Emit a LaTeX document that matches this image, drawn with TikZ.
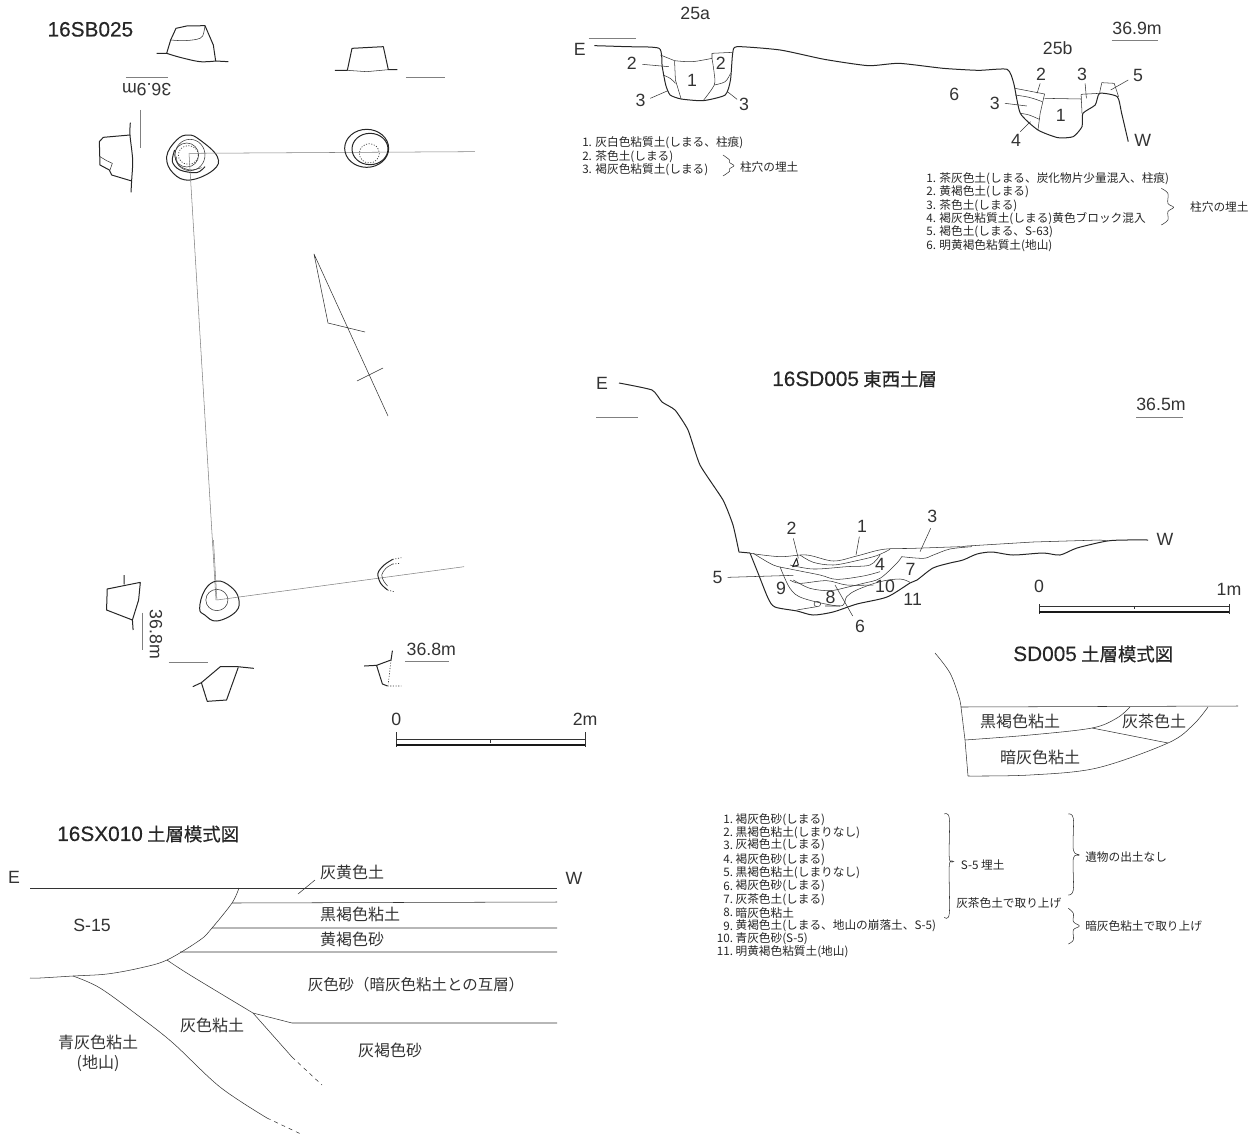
\documentclass[tikz,border=0pt]{standalone}
\usepackage{fontspec}
\setmainfont{Noto Sans CJK JP}
\newfontfamily\latf{Liberation Sans}
\newfontfamily\tlat[FakeBold=0.35]{Liberation Sans}
\newfontfamily\tcjk[FakeBold=0.35]{Noto Sans CJK JP}
\newcommand\ttltext[2]{{\fontsize{15.6}{16}\selectfont\tlat #1}\hspace{3.2pt}{\fontsize{13.8}{16}\selectfont\tcjk #2}}
\tikzset{
 ink/.style={line width=.75pt,black!85,line join=round},
 fine/.style={line width=.4pt,black!80,line join=round},
 ref/.style={line width=.4pt,black!50},
 dots/.style={line width=.5pt,black!80,dash pattern=on .8pt off 1.2pt},
 curve/.style={smooth,tension=.55},
 lab/.style={inner sep=0pt,font=\fontsize{13.3}{14}\selectfont\latf,text=black!80},
 big/.style={inner sep=0pt,font=\fontsize{12}{12}\selectfont,text=black!80},
 ttl/.style={inner sep=0pt,anchor=west,text=black!85},
 leg/.style={inner sep=0pt,anchor=west,font=\fontsize{8.75}{9}\selectfont,text=black!85},
 num/.style={inner sep=0pt,anchor=east,font=\fontsize{8.75}{9}\selectfont,text=black!85},
}
\begin{document}
\begin{tikzpicture}[x=.75pt,y=-.75pt]
\useasboundingbox (0,0) rectangle (1256,1135);
% ---------- 16SB025 upper part (zoom 3x)
\begin{scope}[xscale=1/3,yscale=1/3]
\node[ttl] (sbt) at (142,88) {\ttltext{16SB025}{}};
\draw[ink] (470,160)--(500,160)--(512,120)--(528,85)--(560,78)--(615,77)--(640,135)--(647,183)--(685,185);
\draw[ink] (500,160) plot[curve] coordinates {(500,160)(540,172)(600,185)(647,183)};
\draw[fine] (512,120) plot[curve] coordinates {(512,120)(550,122)(590,118)(608,108)(615,77)};
\draw[ink] (1005,211)--(1042,211)--(1056,145)--(1150,140)--(1165,209)--(1192,209);
\draw[fine] (1042,211)--(1100,215)--(1165,209);
\draw[ref] (1218,231)--(1335,231) (378,233)--(505,233) (421,330)--(421,445);
\node[lab,rotate=180] (sbe) at (440,270) {36.9m};
\draw[ink] plot[curve] coordinates {(391,368)(390,405)(398,480)(395,540)(393,577)};
\draw[ink] (390,405)--(310,412)--(298,425)--(300,495)--(328,510)--(335,525)--(395,543);
\draw[fine] (300,470)--(320,482)--(337,490)--(330,510);
\draw[ink] plot[smooth cycle,tension=.7] coordinates {(500,470)(530,420)(565,405)(600,420)(652,470)(640,510)(570,540)(520,520)};
\draw[fine] (570,465) circle [x radius=45,y radius=47];
\draw[fine] (560,465) circle [x radius=36,y radius=36];
\draw[dots] (565,465) circle [x radius=30,y radius=28];
\draw[ink] plot[curve] coordinates {(524,450)(517,485)(540,510)(590,518)(615,500)};
\draw[fine] plot[curve] coordinates {(530,470)(535,495)(570,510)(605,503)};
\draw[ref] (568,460)--(1425,455);
\draw[ink] (1100,445) circle [x radius=66,y radius=57];
\draw[ink] (1110,447) circle [x radius=54,y radius=47];
\draw[dots] (1108,460) circle [x radius=30,y radius=29];
\end{scope}
\draw[ref] (189,153)--(216,600);
% ---------- arrow
\draw[fine] (365,332)--(328,323)--(314,254)--(388,416) (357,381)--(383,368);
% ---------- 16SB025 lower part
\begin{scope}[shift={(60,540)},xscale=1/2.9,yscale=1/3]
\draw[ink] (186,105)--(186,133) (233,127)--(137,147)--(135,210)--(210,240)--(212,270) (233,127)--(228,180)--(210,240);
\draw[ref] (240,218)--(240,330) (315,367)--(428,367) (1000,363)--(1127,363);
\node[lab,rotate=-90] (sbf) at (278,283) {36.8m};
\draw[ink] (385,440)--(410,428)--(465,380)--(515,380)--(562,385);
\draw[ink] (410,428)--(427,484)--(483,480)--(517,382);
\draw[ink] plot[smooth cycle,tension=.7] coordinates {(405,205)(420,150)(455,123)(495,140)(518,175)(510,215)(455,243)(420,225)};
\draw[fine] (455,180) circle [x radius=32,y radius=32];
\draw[ref] (445,0)--(455,180)--(1172,80);
\draw[ink] plot[curve] coordinates {(965,58)(940,75)(922,100)(930,130)(950,150)};
\draw[fine] plot[curve] coordinates {(965,72)(945,85)(933,105)(940,125)(950,138)};
\draw[dots] (965,58)--(990,53) (965,72)--(985,70) (950,150)--(968,155);
\draw[ink] (882,378)--(918,376)--(960,360)--(964,332) (918,376)--(935,432)--(950,438);
\draw[dots] (950,438)--(990,438) (960,360)--(952,432);
\node[lab] (sbg) at (1077,328) {36.8m};
\node[lab] (sbh) at (975,537) {0};
\node[lab] (sbi) at (1523,537) {2m};
\draw[fine] (975,577)--(975,620) (1523,577)--(1523,620) (975,598)--(1523,598) (1248,598)--(1248,608);
\draw[line width=1.6pt,black!90] (975,615)--(1523,615);
\end{scope}
% ---------- 25a/25b section
\begin{scope}[shift={(560,0)},xscale=1/2.27,yscale=1/3]
\node[lab] (sa) at (307,40) {25a};
\node[lab] (sb) at (45,148) {E};
\draw[ref] (65,115)--(172,115) (1252,120)--(1357,120);
\node[lab] (sc) at (1310,85) {36.9m};
\node[lab] (sd) at (1130,143) {25b};
\draw[ink] plot[smooth,tension=.35] coordinates {(78,137)(150,140)(225,145)(232,200)(240,255)(250,285)(275,297)(325,302)(375,285)(387,240)(392,160)(402,140)(500,150)(600,178)(700,197)(770,190)(870,205)(950,211)(1015,208)(1030,250)(1045,340)(1085,390)(1130,413)(1165,410)(1185,380)(1187,340)(1215,315)(1225,280)(1265,290)(1275,340)(1290,425)};
\draw[fine] (228,165)--(260,182);
\draw[fine] plot[curve] coordinates {(260,182)(300,185)(345,175)};
\draw[fine] (345,175)--(345,160)--(392,157);
\draw[fine] (260,182)--(262,240)--(275,297);
\draw[fine] plot[curve] coordinates {(345,175)(350,220)(350,255)(325,302)};
\draw[fine] plot[curve] coordinates {(234,225)(250,235)(262,250)};
\draw[fine] plot[curve] coordinates {(350,255)(375,245)(387,220)};
\draw[fine] (187,193)--(247,200) (205,295)--(245,272) (380,275)--(402,298);
\node[lab] (se) at (163,190) {2};
\node[lab] (sf) at (300,240) {1};
\node[lab] (sg) at (365,190) {2};
\node[lab] (sh) at (183,300) {3};
\node[lab] (si) at (418,313) {3};
\draw[fine] (1033,265)--(1100,282)--(1090,340)--(1085,390);
\draw[fine] plot[curve] coordinates {(1033,285)(1065,292)(1095,305)};
\draw[fine] plot[curve] coordinates {(1045,340)(1065,345)(1088,358)};
\draw[fine] (1100,295)--(1183,297) (1183,283)--(1225,280) (1183,283)--(1185,340);
\draw[fine] (1225,278)--(1230,248)--(1258,250)--(1268,290);
\draw[fine] (1010,310)--(1060,318) (1083,280)--(1090,250) (1192,250)--(1195,295) (1290,240)--(1250,270) (1045,395)--(1068,365);
\node[lab] (sj) at (1092,222) {2};
\node[lab] (sk) at (1185,222) {3};
\node[lab] (sl) at (1312,225) {5};
\node[lab] (sm) at (987,310) {3};
\node[lab] (sn) at (1035,420) {4};
\node[lab] (so) at (1137,345) {1};
\node[lab] (sp) at (895,283) {6};
\node[lab] (sq) at (1323,420) {W};
\draw[fine] plot[curve] coordinates {(370,465)(385,480)(385,488)(395,497)(385,506)(385,514)(370,528)};
\node[leg] (sr) at (408,500) {柱穴の埋土};
\draw[fine] plot[curve] coordinates {(1365,565)(1380,580)(1380,610)(1393,622)(1380,635)(1380,660)(1365,675)};
\node[leg] (ss) at (1430,620) {柱穴の埋土};
\end{scope}
\node[leg] (la) at (582,143) {1. 灰白色粘質土(しまる、柱痕)};
\node[leg] (lb) at (582,157) {2. 茶色土(しまる)};
\node[leg] (lc) at (582,170) {3. 褐灰色粘質土(しまる)};
\node[leg] (ld) at (926,179) {1. 茶灰色土(しまる、炭化物片少量混入、柱痕)};
\node[leg] (le) at (926,192) {2. 黄褐色土(しまる)};
\node[leg] (lf) at (926,206) {3. 茶色土(しまる)};
\node[leg] (lg) at (926,219) {4. 褐灰色粘質土(しまる)黄色ブロック混入};
\node[leg] (lh) at (926,232) {5. 褐色土(しまる、S-63)};
\node[leg] (li) at (926,246) {6. 明黄褐色粘質土(地山)};
% ---------- 16SD005 section
\node[ttl] (da) at (772,379) {\ttltext{16SD005}{東西土層}};
\node[lab] (db) at (602,383) {E};
\draw[ref] (596,417)--(638,417) (1136,417)--(1183,417);
\node[lab] (dc) at (1161,404) {36.5m};
\node[lab] (dd) at (1165,539) {W};
\draw[ink] plot[smooth,tension=.3] coordinates {(619,383)(652,390)(662,402)(675,410)(688,430)(700,465)(723,500)(733,525)(739,552)};
\draw[ink] (739,552)--(750,553);
\draw[ink] plot[smooth,tension=.45] coordinates {(750,553)(758,573)(768,598)(775,607)(797,611)(813,615)(833,612)(857,604)(887,597)(910,583)(917,580)(933,568)(950,563)(963,560)(977,554)(992,552)(1013,555)(1043,553)(1060,555)(1077,548)(1107,541)(1127,540)(1148,540)};
\draw[fine] (960,547)--(967,546)--(1033,542)--(1100,540)--(1108,541);
\begin{scope}[shift={(700,500)},scale=1/3]
\draw[fine] plot[curve] coordinates {(150,160)(240,170)(320,165)(400,183)(470,168)(550,148)(640,145)(780,140)};
\draw[fine] plot[curve] coordinates {(160,160)(220,195)(270,207)(360,225)(410,238)(490,228)(540,215)};
\draw[fine] plot[curve] coordinates {(300,165)(340,187)(400,195)(470,182)(530,167)(570,148)};
\draw[fine] plot[curve] coordinates {(270,195)(340,207)(440,200)(510,195)(540,165)};
\draw[fine] plot[curve] coordinates {(240,200)(270,265)(310,295)(420,318)(440,290)(470,270)(540,245)(600,237)(630,247)};
\draw[fine] plot[curve] coordinates {(280,240)(330,265)(390,272)(440,262)(490,250)(540,235)(590,190)(605,170)};
\draw[fine] plot[curve] coordinates {(270,240)(300,250)(380,242)(440,255)(520,255)};
\draw[fine] plot[curve] coordinates {(605,170)(670,175)(700,165)(750,147)(816,140)};
\draw[fine] (290,330)--(350,320) (375,318)--(420,318);
\draw[fine] (352,312) ellipse [x radius=10,y radius=8];
\draw[ink] (278,200)--(290,175)--(295,195)--cycle;
\draw[fine] (478,110)--(468,165) (280,115)--(295,175) (692,85)--(660,155) (83,232)--(280,226) (405,255)--(458,348);
\node[lab] (n1) at (486,80) {1};
\node[lab] (n2) at (275,85) {2};
\node[lab] (n3) at (697,50) {3};
\node[lab] (n4) at (540,192) {4};
\node[lab] (n5) at (53,232) {5};
\node[lab] (n6) at (480,378) {6};
\node[lab] (n7) at (632,207) {7};
\node[lab] (n8) at (392,292) {8};
\node[lab] (n9) at (243,265) {9};
\node[lab] (n10) at (555,260) {10};
\node[lab] (n11) at (638,298) {11};
\end{scope}
\node[lab] (de) at (1039,586) {0};
\node[lab] (df) at (1229,589) {1m};
\draw[fine] (1039,604)--(1039,614) (1229,604)--(1229,614) (1039,606)--(1229,606) (1134,606)--(1134,609);
\draw[line width=1.6pt,black!90] (1039,612)--(1229,612);
% ---------- SD005 schematic
\node[ttl] (ma) at (1013,654) {\ttltext{SD005}{土層模式図}};
\draw[fine] plot[curve] coordinates {(935,653)(950,673)(959,697)(961,707)};
\draw[fine] (961,707)--(965,740)--(968,776);
\draw[fine] (961,707)--(1238,706);
\draw[fine] plot[curve] coordinates {(968,776)(1030,775)(1097,768)(1168,743)(1193,725)(1208,707)};
\draw[fine] plot[curve] coordinates {(965,740)(1030,735)(1092,728)(1117,718)(1130,707)};
\draw[fine] (1092,728)--(1168,743);
\node[big] (mb) at (1020,721) {黒褐色粘土};
\node[big] (mc) at (1154,721) {灰茶色土};
\node[big] (md) at (1040,757) {暗灰色粘土};
% ---------- 16SD005 legend
\begin{scope}[shift={(700,800)},scale=1/3]
\foreach \n/\y/\t in {1/58/褐灰色砂(しまる),2/98/黒褐色粘土(しまりなし),3/135/灰褐色土(しまる),4/178/褐灰色砂(しまる),5/217/黒褐色粘土(しまりなし),6/258/褐灰色砂(しまる),7/298/灰茶色土(しまる),8/338/暗灰色粘土,9/378/黄褐色土(しまる、地山の崩落土、S-5),10/415/青灰色砂(S-5),11/455/明黄褐色粘質土(地山)}{
 \node[num] (nn\n) at (100,\y) {\n.};
 \node[leg] (tt\n) at (106,\y) {\t};
}
\draw[fine] plot[curve] coordinates {(733,42)(748,55)(748,175)(762,185)(748,195)(748,340)(733,352)};
\draw[fine] plot[curve] coordinates {(1105,42)(1120,55)(1120,150)(1138,165)(1120,175)(1120,270)(1105,285)};
\draw[fine] plot[curve] coordinates {(1105,325)(1120,340)(1120,365)(1138,378)(1120,390)(1120,420)(1105,432)};
\node[leg] (ea) at (782,195) {S-5 埋土};
\node[leg] (eb) at (768,310) {灰茶色土で取り上げ};
\node[leg] (ec) at (1155,172) {遺物の出土なし};
\node[leg] (ed) at (1155,378) {暗灰色粘土で取り上げ};
\end{scope}
% ---------- 16SX010
\node[ttl] (xa) at (57,834) {\ttltext{16SX010}{土層模式図}};
\node[lab] (xb) at (14,877) {E};
\node[lab] (xc) at (574,878) {W};
\draw[fine] (30,888)--(557,888);
\draw[fine] plot[curve] coordinates {(239,888)(232,903)(212,928)(200,940)(167,960)(140,968)(107,974)(73,976)(40,978)(30,978)};
\draw[fine] (232,903)--(557,902) (212,928)--(557,928) (180,952)--(557,952);
\draw[fine] plot[curve] coordinates {(167,960)(190,975)(253,1013)};
\draw[fine] (253,1013)--(292,1023)--(557,1023);
\draw[fine] (253,1013)--(292,1057);
\draw[fine,dashed] (292,1057)--(322,1085);
\draw[fine] plot[curve] coordinates {(73,976)(100,988)(140,1017)(173,1043)(220,1087)(267,1118)};
\draw[fine,dashed] (267,1118)--(303,1135);
\draw[fine] (298,894)--(315,880);
\node[big] (xd) at (352,872) {灰黄色土};
\node[big] (xe) at (360,914) {黒褐色粘土};
\node[big] (xf) at (352,939) {黄褐色砂};
\node[lab] (xg) at (92,925) {S-15};
\node[big,font=\fontsize{11.6}{12}\selectfont] (xh) at (416,985) {灰色砂（暗灰色粘土との互層）};
\node[big] (xi) at (212,1025) {灰色粘土};
\node[big] (xj) at (390,1050) {灰褐色砂};
\node[big] (xk) at (98,1042) {青灰色粘土};
\node[big] (xl) at (98,1063) {(地山)};
\end{tikzpicture}
\end{document}
